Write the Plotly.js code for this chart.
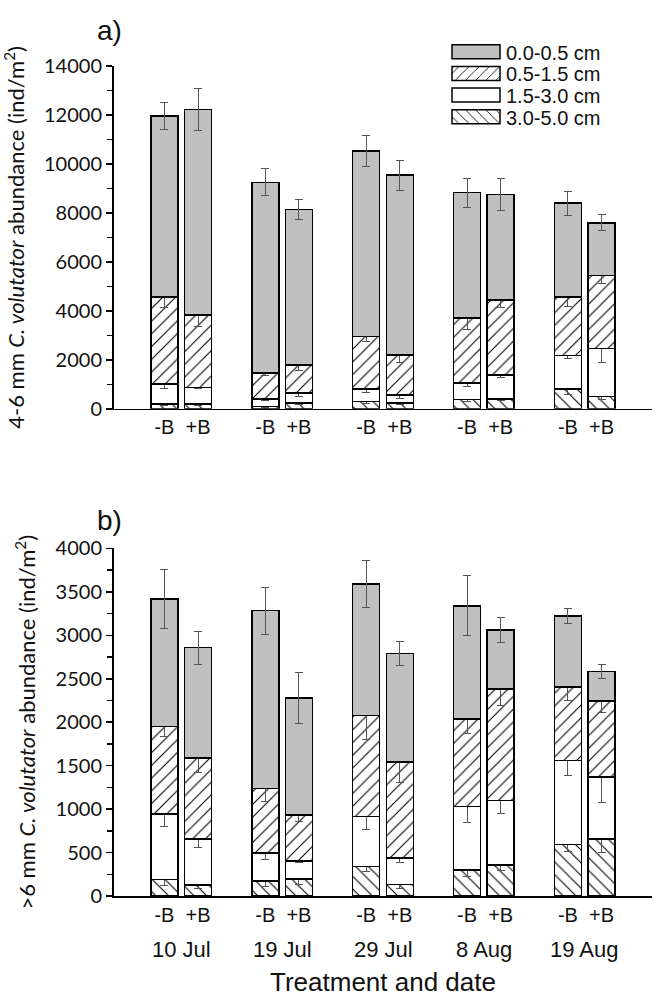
<!DOCTYPE html>
<html>
<head>
<meta charset="utf-8">
<script src="https://cdn.plot.ly/plotly-3.0.1.min.js"></script>
<style>html,body{margin:0;padding:0;background:#fff;}#chart{width:662px;height:1003px;}</style>
</head>
<body>
<div id="chart"></div>
<script>
// Categories
const dates = ['10 Jul', '19 Jul', '29 Jul', '8 Aug', '19 Aug'];
const treatments = ['-B', '+B'];
const seriesNames = ['3.0-5.0 cm', '1.5-3.0 cm', '0.5-1.5 cm', '0.0-0.5 cm'];

// Panel a) 4-6 mm, segment values (bottom to top), order: 10Jul -B,+B, 19Jul -B,+B, ...
const a_30_50 = [190, 190, 95, 230, 300, 230, 370, 390, 800, 500];
const a_15_30 = [830, 680, 300, 410, 500, 340, 680, 990, 1380, 1970];
const a_05_15 = [3540, 2970, 1060, 1155, 2150, 1630, 2650, 3060, 2380, 2965];
const a_00_05 = [7400, 8390, 7790, 6350, 7580, 7345, 5125, 4310, 3835, 2160];
const a_err_30_50 = [60, 50, 40, 50, 80, 50, 60, 50, 200, 120];
const a_err_15_30 = [210, 50, 60, 150, 150, 140, 150, 120, 140, 580];
const a_err_05_15 = [440, 460, 100, 240, 220, 310, 450, 320, 370, 300];
const a_err_00_05 = [550, 870, 550, 400, 630, 610, 600, 640, 490, 320];

// Panel b) >6 mm
const b_30_50 = [190, 125, 170, 195, 340, 135, 300, 355, 595, 655];
const b_15_30 = [755, 530, 325, 210, 575, 305, 730, 745, 965, 715];
const b_05_15 = [1005, 935, 740, 525, 1165, 1100, 1005, 1285, 845, 875];
const b_00_05 = [1470, 1270, 2050, 1350, 1510, 1250, 1305, 675, 820, 340];
const b_err_30_50 = [65, 40, 60, 60, 60, 45, 75, 65, 80, 150];
const b_err_15_30 = [150, 100, 70, 25, 155, 58, 180, 145, 170, 295];
const b_err_05_15 = [110, 170, 150, 70, 275, 235, 165, 190, 150, 135];
const b_err_00_05 = [340, 190, 270, 290, 270, 135, 345, 140, 85, 85];

// x positions from category indices (group spacing 3, bar spacing 1)
const xs = [], tickText = [];
dates.forEach((d, g) => treatments.forEach((t, j) => { xs.push(g * 3 + j); tickText.push(t); }));
const groupCenters = dates.map((d, g) => g * 3 + 0.5);

const styles = [
  {color: 'white', pattern: {shape: '\\', fgcolor: 'black', bgcolor: 'white', size: 9, solidity: 0.12}},
  {color: 'white'},
  {color: 'white', pattern: {shape: '/', fgcolor: 'black', bgcolor: 'white', size: 9, solidity: 0.12}},
  {color: '#c0c0c0'}
];

function makeTraces(vals, errs, xa, ya, showLeg) {
  return vals.map((v, k) => ({
    type: 'bar', x: xs, y: v, xaxis: xa, yaxis: ya,
    name: seriesNames[k], showlegend: showLeg,
    width: 0.8,
    marker: Object.assign({line: {color: 'black', width: 1.5}}, styles[k]),
    error_y: {type: 'data', array: errs[k], visible: true, color: '#555', thickness: 1, width: 4},
    hoverinfo: 'name+y'
  }));
}

const traces = [].concat(
  makeTraces([a_30_50, a_15_30, a_05_15, a_00_05], [a_err_30_50, a_err_15_30, a_err_05_15, a_err_00_05], 'x', 'y', true),
  makeTraces([b_30_50, b_15_30, b_05_15, b_00_05], [b_err_30_50, b_err_15_30, b_err_05_15, b_err_00_05], 'x2', 'y2', false)
);

const lato = 'Lato, "Open Sans", sans-serif';
const arial = 'Arial, "Liberation Sans", sans-serif';

function xAxis(anchor) {
  return {
    anchor: anchor, domain: [0, 1], range: [-1.5, 14.5],
    tickmode: 'array', tickvals: xs, ticktext: tickText,
    showline: true, linecolor: 'black', linewidth: 1.5, ticks: '',
    showgrid: false, zeroline: false,
    tickfont: {family: arial, size: 20, color: '#111'}
  };
}
function yAxis(anchor, domain, range, dtick, minor, title) {
  return {
    anchor: anchor, domain: domain, range: range, dtick: dtick, tickformat: 'd',
    showline: true, linecolor: 'black', linewidth: 2,
    ticks: 'outside', ticklen: 6, tickwidth: 1.5, tickcolor: 'black',
    minor: {dtick: minor, ticks: 'outside', ticklen: 5, tickwidth: 1.5, tickcolor: 'black'},
    showgrid: false, zeroline: false, tickfont: {family: lato, size: 20, color: '#111'},
    title: {text: title, font: {family: lato, size: 22, color: '#111'}, standoff: 14}
  };
}

const layout = {
  width: 662, height: 1003,
  margin: {l: 114, r: 10, t: 66, b: 107},
  paper_bgcolor: 'white', plot_bgcolor: 'white',
  barmode: 'stack',
  xaxis: xAxis('y'),
  yaxis: yAxis('x', [0.587, 1], [0, 14000], 2000, 1000, '4-6 mm <i>C. volutator</i> abundance (ind/m<sup>2</sup>)'),
  xaxis2: Object.assign(xAxis('y2'), {title: {text: 'Treatment and date', font: {family: arial, size: 26, color: '#111'}, standoff: 48}}),
  yaxis2: yAxis('x2', [0, 0.4187], [0, 4000], 500, 250, '>6 mm <i>C. volutator</i> abundance (ind/m<sup>2</sup>)'),
  legend: {
    x: 0.625, y: 1.034, xanchor: 'left', yanchor: 'top',
    traceorder: 'reversed', font: {family: arial, size: 20, color: '#111'},
    bgcolor: 'rgba(0,0,0,0)'
  },
  annotations: [
    {text: 'a)', xref: 'paper', yref: 'paper', x: -0.035, y: 1.043, xanchor: 'left', yanchor: 'middle', showarrow: false, font: {family: arial, size: 28, color: '#111'}},
    {text: 'b)', xref: 'paper', yref: 'paper', x: -0.035, y: 0.452, xanchor: 'left', yanchor: 'middle', showarrow: false, font: {family: arial, size: 28, color: '#111'}}
  ].concat(dates.map((d, g) => ({
    text: d, xref: 'x2', yref: 'paper', x: groupCenters[g], y: -0.065, yanchor: 'middle',
    showarrow: false, font: {family: arial, size: 22, color: '#111'}
  }))),
  showlegend: true
};

const gd = document.getElementById('chart');
Plotly.newPlot(gd, traces, layout, {displayModeBar: false, staticPlot: true}).then(() => {
  // Enlarge legend swatches to wide rectangles like the reference
  const leg = gd.querySelector('g.legend');
  if (!leg) return;
  const sb = leg.querySelector('.scrollbox');
  if (sb) sb.removeAttribute('clip-path');
  const items = leg.querySelectorAll('g.traces');
  const rowH = 21.7;
  items.forEach((g, i) => {
    g.setAttribute('transform', 'translate(0,' + (i * rowH) + ')');
    g.querySelectorAll('.legendpoints path').forEach(p => {
      p.setAttribute('d', 'M0,7H48V-7H0Z');
      p.setAttribute('transform', 'translate(0,0)');
    });
    const t = g.querySelector('text.legendtext');
    if (t) t.setAttribute('x', 54);
  });
  leg.setAttribute('transform', 'translate(452,51.7)');
});
</script>
</body>
</html>
